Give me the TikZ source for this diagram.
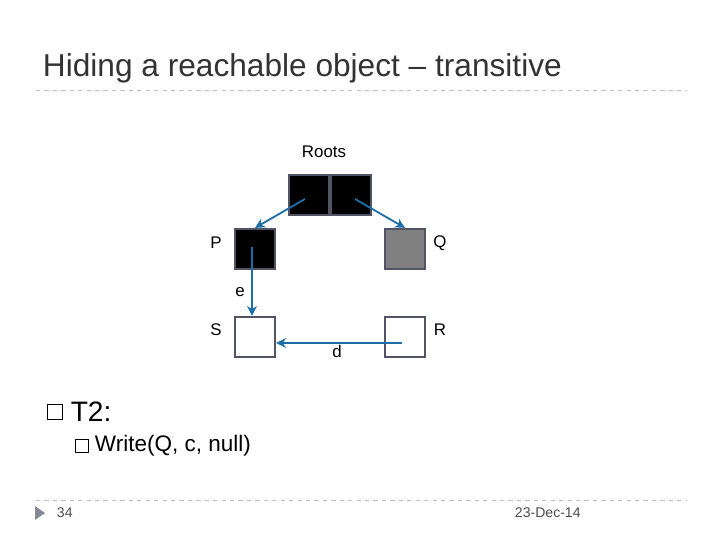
\documentclass[tikz,border=0pt]{standalone}
\usepackage{fontspec}
\setmainfont{Liberation Sans}
\usetikzlibrary{arrows.meta}
\definecolor{edgegray}{RGB}{80,84,100}
\definecolor{linkblue}{RGB}{30,110,170}
\definecolor{rulegray}{RGB}{190,190,190}
\begin{document}
\begin{tikzpicture}[
          x=0.025cm, y=-0.025cm,
          cell/.style={
            draw=edgegray,
            line width=1.6pt,
            minimum size=1.0cm,
            inner sep=0pt,
          },
          lbl/.style={font=\fontsize{12}{14}\selectfont, inner sep=1pt},
          link/.style={draw=linkblue, line width=1.3pt, -{Stealth[length=7pt,width=7pt]}},
          >={Stealth},
        ]
        \useasboundingbox (0,0) rectangle (720,540);
        % title and rules
        \node[anchor=west, font=\fontsize{22.5}{26}\selectfont, text=black!80] (title) at (38,68) {Hiding a reachable object -- transitive};
        \draw[rulegray, dashed] (36,90) -- (686,90);
        \draw[rulegray, dashed] (36,500) -- (686,500);
        % heap
        \node[lbl] (roots) at (324,152) {Roots};
        \node[cell, fill=black] (r1) at (309,195) {};
        \node[cell, fill=black] (r2) at (351,195) {};
        \node[cell, fill=black] (p) at (255,249) {};
        \node[cell, fill=gray] (q) at (405,249) {};
        \node[cell, fill=white] (s) at (255,337) {};
        \node[cell, fill=white] (r) at (405,337) {};
        \node[lbl] (pl) at (216,243) {P};
        \node[lbl] (ql) at (440,243) {Q};
        \node[lbl] (sl) at (216,330) {S};
        \node[lbl] (rl) at (440,330) {R};
        \draw[link] (r1.center) ++(-4,4) -- (p.north);
        \draw[link] (r2.center) ++(4,4) -- (q.north);
        \draw[link] (252,247) -- (s.north -| 252,0);
        \node[lbl] (el) at (240,292) {e};
        \draw[link] (402,343) -- (s.east |- 0,343);
        \node[lbl] (dl) at (337,351) {d};
        % text
        \node[draw, minimum size=11pt, inner sep=0pt] (b1) at (55,412) {};
        \node[anchor=west, font=\fontsize{20}{24}\selectfont, xshift=2pt] (t2) at (b1.east) {T2:};
        \node[draw, minimum size=9pt, inner sep=0pt] (b2) at (82,446) {};
        \node[anchor=west, font=\fontsize{16}{19}\selectfont, xshift=1pt] (wr) at (b2.east) {Write(Q, c, null)};
        \fill[edgegray!70] (35,506) -- (45,513) -- (35,520) -- cycle;
        \node[anchor=west, font=\fontsize{10}{12}\selectfont, text=black!70] (pg) at (52,513) {34};
        \node[anchor=west, font=\fontsize{10}{12}\selectfont, text=black!70] (dt) at (510,513) {23-Dec-14};
        \end{tikzpicture}
\end{document}
